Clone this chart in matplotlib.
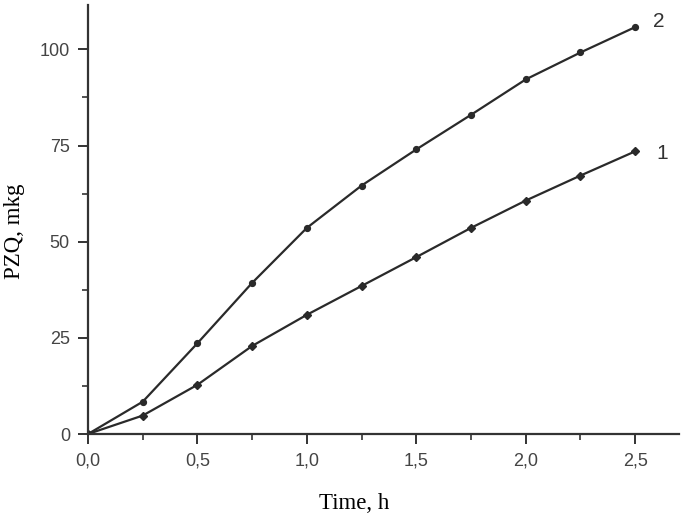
import matplotlib
matplotlib.use("Agg")
import matplotlib.pyplot as plt
from matplotlib.ticker import MultipleLocator, FuncFormatter

time_h = [0.0, 0.25, 0.5, 0.75, 1.0, 1.25, 1.5, 1.75, 2.0, 2.25, 2.5]
series_1 = [0.0, 4.8, 12.8, 22.9, 31.0, 38.5, 46.0, 53.6, 60.7, 67.2, 73.5]
series_2 = [0.0, 8.4, 23.6, 39.3, 53.6, 64.6, 74.0, 83.0, 92.2, 99.2, 105.8]
series_names = ["1", "2"]

fig = plt.figure(figsize=(6.82, 5.17), dpi=100)
ax = fig.add_axes([0.129, 0.1605, 0.8666, 0.8295])

lc = "#2a2a2a"
ax.plot(time_h, series_1, color=lc, lw=1.6, marker="D", ms=4, mfc=lc, mec=lc)
ax.plot(time_h, series_2, color=lc, lw=1.6, marker="o", ms=4.2, mfc=lc, mec=lc)

ax.text(time_h[-1] + 0.08, series_2[-1] + 1.4, series_names[1], fontsize=15,
        family="Liberation Sans", color="#333333", va="center")
ax.text(time_h[-1] + 0.095, series_1[-1] - 0.6, series_names[0], fontsize=15,
        family="Liberation Sans", color="#333333", va="center")

ax.set_xlim(0, 2.70)
ax.set_ylim(0, 111.5)

for s in ["top", "right"]:
    ax.spines[s].set_visible(False)
for s in ["left", "bottom"]:
    ax.spines[s].set_linewidth(1.6)
    ax.spines[s].set_color("#333333")

ax.xaxis.set_major_locator(MultipleLocator(0.5))
ax.xaxis.set_minor_locator(MultipleLocator(0.25))
ax.yaxis.set_major_locator(MultipleLocator(25))
ax.yaxis.set_minor_locator(MultipleLocator(12.5))
ax.xaxis.set_major_formatter(FuncFormatter(lambda v, p: f"{v:.1f}".replace(".", ",")))
ax.yaxis.set_major_formatter(FuncFormatter(lambda v, p: f"{v:.0f}"))

ax.tick_params(which="major", direction="out", length=7, width=1.4, color="#333333",
               labelsize=13, labelcolor="#444444", pad=6)
ax.tick_params(which="minor", direction="out", length=4, width=1.2, color="#333333")
for lab in ax.get_xticklabels() + ax.get_yticklabels():
    lab.set_family("Liberation Sans")

ax.set_xlabel("Time, h", family="Liberation Serif", fontsize=16.5)
ax.set_ylabel("PZQ, mkg", family="Liberation Serif", fontsize=16.5)
ax.xaxis.set_label_coords(0.45, -0.138)
ax.yaxis.set_label_coords(-0.107, 0.473)

fig.savefig("out.png", dpi=100)
